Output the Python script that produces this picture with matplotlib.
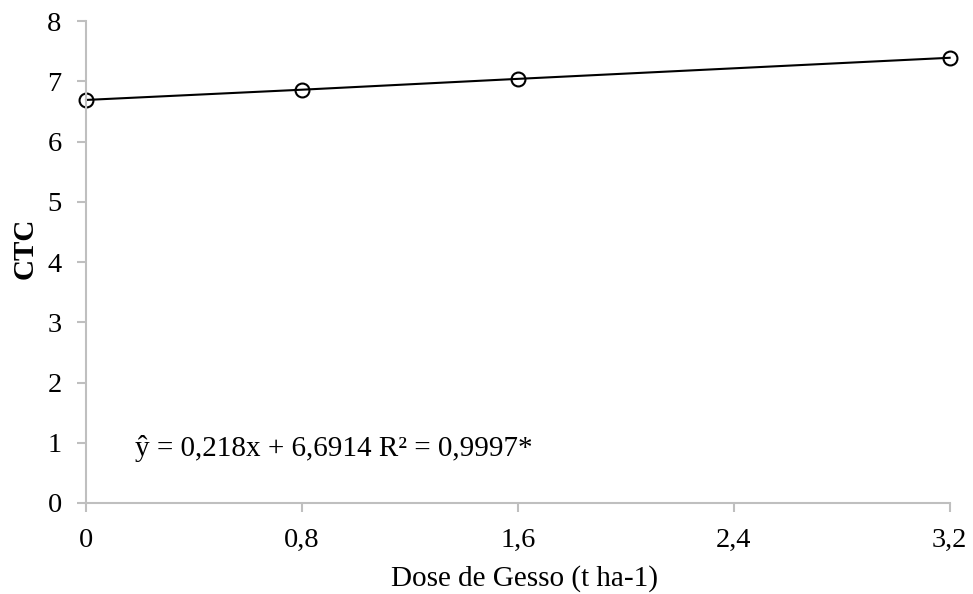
import matplotlib.pyplot as plt

plt.rcParams['font.family'] = ['Liberation Serif', 'DejaVu Serif']

dose = [0, 0.8, 1.6, 3.2]
ctc = [6.69, 6.86, 7.04, 7.39]
xticks = [0, 0.8, 1.6, 2.4, 3.2]
xtick_labels = ['0', '0,8', '1,6', '2,4', '3,2']
yticks = [0, 1, 2, 3, 4, 5, 6, 7, 8]
equation = 'ŷ = 0,218x + 6,6914 R² = 0,9997*'

fig = plt.figure(figsize=(9.73, 5.94), dpi=100)
ax = fig.add_axes([0.0884, 0.1532, 0.8876, 0.8114])

ax.plot(dose, ctc, color='black', linewidth=1.5, marker='o', markersize=10,
        markerfacecolor='none', markeredgecolor='black', markeredgewidth=1.5,
        clip_on=False)

ax.set_xlim(0, 3.2)
ax.set_ylim(0, 8)
ax.set_xticks(xticks)
ax.set_xticklabels(xtick_labels)
ax.set_yticks(yticks)

for s in ['top', 'right']:
    ax.spines[s].set_visible(False)
for s in ['left', 'bottom']:
    ax.spines[s].set_color('#bfbfbf')
    ax.spines[s].set_linewidth(1.5)
ax.tick_params(axis='both', colors='#bfbfbf', labelcolor='black', labelsize=20.5,
               length=6.5, width=1.5)
ax.tick_params(axis='x', pad=11.5)
ax.tick_params(axis='y', pad=11)

ax.set_xlabel('Dose de Gesso (t ha-1)', fontsize=21, va='baseline')
ax.xaxis.set_label_coords(0.508, -0.172)
ax.set_ylabel('CTC', fontsize=21, fontweight='bold', va='center', ha='center')
ax.yaxis.set_label_coords(-0.0706, 0.529)

ax.text(0.181, 0.78, equation, fontsize=21, va='baseline', ha='left')

fig.savefig('out.png', dpi=100)
